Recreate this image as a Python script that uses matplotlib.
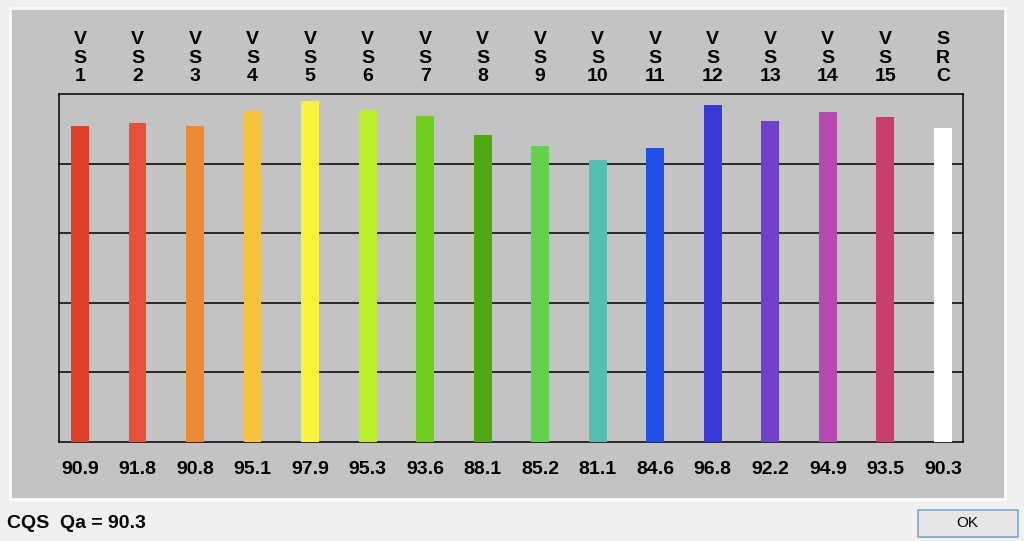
import matplotlib

matplotlib.use('Agg')

import matplotlib.pyplot as plt
from matplotlib.patches import Rectangle

# channel names, values
names = ['VS1', 'VS2', 'VS3', 'VS4', 'VS5', 'VS6', 'VS7', 'VS8',
         'VS9', 'VS10', 'VS11', 'VS12', 'VS13', 'VS14', 'VS15', 'SRC']
top_labels = ['V\nS\n1', 'V\nS\n2', 'V\nS\n3', 'V\nS\n4', 'V\nS\n5', 'V\nS\n6',
              'V\nS\n7', 'V\nS\n8', 'V\nS\n9', 'V\nS\n10', 'V\nS\n11', 'V\nS\n12',
              'V\nS\n13', 'V\nS\n14', 'V\nS\n15', 'S\nR\nC']
values = [90.9, 91.8, 90.8, 95.1, 97.9, 95.3, 93.6, 88.1,
          85.2, 81.1, 84.6, 96.8, 92.2, 94.9, 93.5, 90.3]
colors = ['#e0402a', '#e8523a', '#ee8a34', '#f8c23c', '#f8f23a', '#bcee2c',
          '#6cd01c', '#50a812', '#64d24c', '#52bfb0', '#1f4ee8', '#3a3ad6',
          '#6e42c8', '#b64ab0', '#c83e6c', '#ffffff']
qa = 90.3

W, H = 1024, 541
fig = plt.figure(figsize=(W / 100, H / 100), dpi=100, facecolor='#f0f0f0')

# grey inner panel of the dialog (kept behind the axes)
panel = Rectangle((10 / W, 1 - 499 / H), 995 / W, 491 / H,
                  transform=fig.transFigure, facecolor='#c3c3c3',
                  edgecolor='#fbfbfb', linewidth=2, zorder=-5)
fig.patches.append(panel)

ax = fig.add_axes([59 / W, 1 - 442 / H, 904 / W, 348 / H])
ax.set_zorder(2)
ax.set_facecolor('#c3c3c3')
x = list(range(len(values)))
ax.bar(x, values, width=0.31, color=colors, zorder=3)
ax.set_xlim(-0.365, 15.35)
ax.set_ylim(0, 100)
for yv in (20, 40, 60, 80):
    ax.axhline(yv, color='black', linewidth=1.1, zorder=2)
ax.set_xticks([])
ax.set_yticks([])
for s in ax.spines.values():
    s.set_linewidth(1.1)

font = dict(family=['Liberation Sans', 'DejaVu Sans'], fontweight='bold',
            fontsize=14)
for xi, lab, v in zip(x, top_labels, values):
    ax.text(xi, 1.025, lab, transform=ax.get_xaxis_transform(), ha='center',
            va='bottom', linespacing=1.12, clip_on=False, **font)
    ax.text(xi, -0.078, f'{v:.1f}', transform=ax.get_xaxis_transform(),
            ha='center', va='center', clip_on=False, **font)

fig.text(7 / W, 1 - 523 / H, f'CQS  Qa = {qa:.1f}', ha='left', va='center',
         **font)

# OK button
btn = Rectangle((918 / W, 1 - 537 / H), 100 / W, 27 / H,
                transform=fig.transFigure, facecolor='#e6e6e6',
                edgecolor='#7aa7d4', linewidth=1.2)
fig.patches.append(btn)
fig.text(967 / W, 1 - 523 / H, 'OK', ha='center', va='center',
         family=['Liberation Sans', 'DejaVu Sans'], fontsize=11)

fig.savefig('out.png', dpi=100, facecolor=fig.get_facecolor())
